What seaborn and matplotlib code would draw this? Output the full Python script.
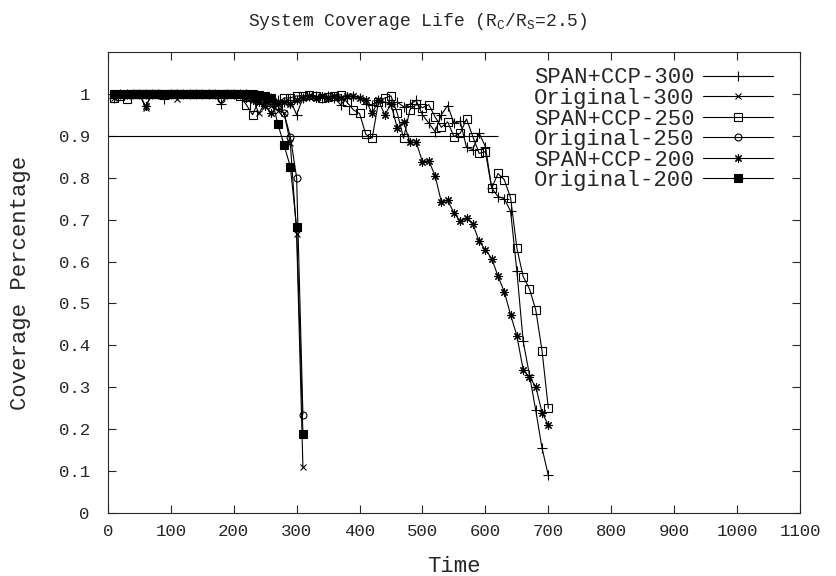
import matplotlib
matplotlib.use("Agg")
import matplotlib.pyplot as plt
import pandas as pd
import seaborn as sns

# time steps
t_long = list(range(10, 710, 10))    # 10..700
t_short = list(range(10, 320, 10))   # 10..310

span_300 = [
    0.99, 1.0, 1.0, 1.0, 1.0, 1.0, 1.0, 1.0, 0.988, 1.0,
    1.0, 1.0, 1.0, 1.0, 1.0, 1.0, 1.0, 0.975, 1.0, 1.0,
    1.0, 1.0, 0.995, 0.99, 0.985, 0.99, 0.985, 0.98, 0.985, 0.95,
    0.99, 0.995, 0.995, 0.99, 0.995, 0.99, 0.974, 0.99, 0.995, 0.99,
    0.975, 0.974, 0.985, 0.98, 0.975, 0.98, 0.969, 0.975, 0.984, 0.95,
    0.93, 0.91, 0.95, 0.972, 0.93, 0.934, 0.872, 0.867, 0.906, 0.874,
    0.775, 0.755, 0.75, 0.72, 0.577, 0.41, 0.33, 0.245, 0.155, 0.09,
]
orig_300 = [
    0.99, 1.0, 0.995, 1.0, 1.0, 0.967, 1.0, 1.0, 1.0, 1.0,
    0.988, 1.0, 1.0, 1.0, 1.0, 1.0, 1.0, 1.0, 1.0, 1.0,
    1.0, 0.995, 0.99, 0.953, 0.98, 0.97, 0.96, 0.955, 0.882, 0.665,
    0.11,
]
span_250 = [
    0.99, 0.995, 0.988, 1.0, 1.0, 1.0, 1.0, 1.0, 1.0, 1.0,
    1.0, 1.0, 1.0, 1.0, 1.0, 1.0, 1.0, 1.0, 1.0, 1.0,
    0.995, 0.974, 0.95, 0.985, 0.99, 0.985, 0.974, 0.99, 0.99, 0.995,
    0.995, 0.997, 0.995, 0.99, 0.993, 0.995, 0.998, 0.98, 0.962, 0.953,
    0.903, 0.894, 0.98, 0.99, 0.995, 0.953, 0.894, 0.962, 0.975, 0.967,
    0.974, 0.945, 0.92, 0.933, 0.898, 0.906, 0.94, 0.898, 0.858, 0.862,
    0.775, 0.81, 0.795, 0.752, 0.632, 0.564, 0.535, 0.485, 0.387, 0.25,
]
orig_250 = [
    1.0, 1.0, 1.0, 1.0, 1.0, 1.0, 1.0, 1.0, 1.0, 1.0,
    1.0, 1.0, 1.0, 1.0, 1.0, 1.0, 1.0, 0.988, 1.0, 1.0,
    1.0, 1.0, 1.0, 0.995, 0.99, 0.985, 0.97, 0.953, 0.898, 0.8,
    0.235,
]
span_200 = [
    1.0, 1.0, 1.0, 1.0, 1.0, 0.97, 1.0, 1.0, 1.0, 1.0,
    1.0, 1.0, 1.0, 1.0, 1.0, 1.0, 1.0, 1.0, 1.0, 1.0,
    1.0, 0.99, 0.985, 0.98, 0.97, 0.953, 0.975, 0.98, 0.976, 0.985,
    0.99, 0.995, 0.99, 0.995, 0.99, 0.995, 0.99, 0.995, 0.995, 0.99,
    0.985, 0.953, 0.985, 0.95, 0.975, 0.918, 0.933, 0.884, 0.884, 0.838,
    0.84, 0.805, 0.742, 0.746, 0.716, 0.696, 0.703, 0.69, 0.648, 0.628,
    0.607, 0.565, 0.528, 0.473, 0.423, 0.342, 0.324, 0.302, 0.24, 0.21,
]
orig_200 = [
    1.0, 1.0, 1.0, 1.0, 1.0, 1.0, 1.0, 1.0, 1.0, 1.0,
    1.0, 1.0, 1.0, 1.0, 1.0, 1.0, 1.0, 1.0, 1.0, 1.0,
    1.0, 1.0, 1.0, 0.998, 0.995, 0.99, 0.929, 0.878, 0.826, 0.683,
    0.19,
]

threshold = 0.9
threshold_end = 620

series = [
    ("SPAN+CCP-300", t_long, span_300, dict(marker="+", markersize=7)),
    ("Original-300", t_short, orig_300, dict(marker="x", markersize=5)),
    ("SPAN+CCP-250", t_long, span_250, dict(marker="s", markersize=5.5, markerfacecolor="none")),
    ("Original-250", t_short, orig_250, dict(marker="o", markersize=5, markerfacecolor="none")),
    ("SPAN+CCP-200", t_long, span_200, dict(marker=(8, 2, 0), markersize=6)),
    ("Original-200", t_short, orig_200, dict(marker="s", markersize=6, markerfacecolor="black")),
]

sns.set_style("ticks")
plt.rcParams["font.family"] = ["Liberation Mono", "DejaVu Sans"]
plt.rcParams["mathtext.fontset"] = "custom"
plt.rcParams["mathtext.rm"] = "Liberation Mono"
plt.rcParams["mathtext.it"] = "Liberation Mono"

fig = plt.figure(figsize=(8.36, 5.76), dpi=100)
ax = fig.add_axes([0.129, 0.109, 0.828, 0.801])

for name, xs, ys, style in series:
    df = pd.DataFrame({"Time": xs, "Coverage": ys})
    sns.lineplot(
        data=df, x="Time", y="Coverage", ax=ax, color="black",
        linewidth=0.8, markeredgecolor="black", markeredgewidth=0.8,
        label=name, **style,
    )

ax.hlines(threshold, 0, threshold_end, color="black", linewidth=0.8)

ax.set_xlim(0, 1100)
ax.set_ylim(0, 1.1)
ax.set_xticks(range(0, 1101, 100))
ax.set_yticks([i / 10 for i in range(11)])
ax.set_yticklabels(["0", "0.1", "0.2", "0.3", "0.4", "0.5", "0.6", "0.7", "0.8", "0.9", "1"])
ax.tick_params(direction="in", length=6, width=0.8, top=True, right=True, labelsize=12.5)
ax.tick_params(axis="x", pad=8)
ax.tick_params(axis="y", pad=13)
for s in ax.spines.values():
    s.set_linewidth(0.8)

ax.set_xlabel("Time", fontsize=16, labelpad=12)
ax.set_ylabel("Coverage Percentage", fontsize=16, labelpad=20)
fig.text(0.5, 1 - 21 / 576, r"System Coverage Life ($\mathrm{R_C/R_S}$=2.5)",
         fontsize=13, ha="center", va="center")

ax.legend(
    loc="upper right", bbox_to_anchor=(0.984, 1.0), frameon=False,
    markerfirst=False, fontsize=16, handlelength=3.15, handletextpad=0.4,
    labelspacing=-0.02, borderaxespad=0.3,
)

fig.savefig("out.png", dpi=100)
